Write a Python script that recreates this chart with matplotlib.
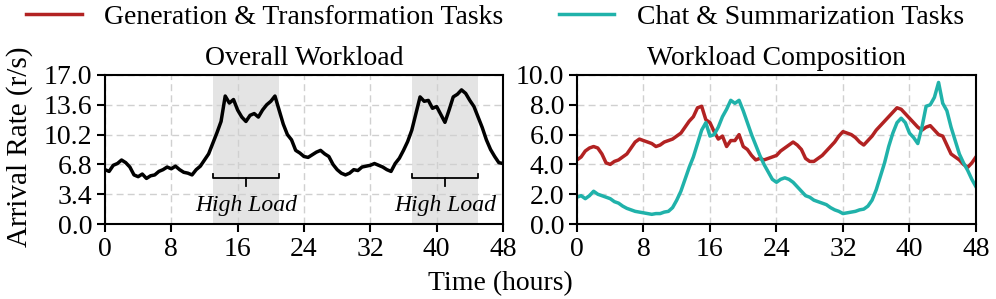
import numpy as np
import matplotlib
matplotlib.use('Agg')
import matplotlib.pyplot as plt

plt.rcParams['font.family'] = ['Liberation Serif', 'DejaVu Serif']

# time axis (hours), half-hour readings
hours = np.arange(0, 48.5, 0.5)

overall = [6.2, 6.0, 6.7, 6.9, 7.3, 7.0, 6.5, 5.6, 5.4, 5.7, 5.2, 5.5, 5.6, 6.0, 6.2, 6.5,
           6.3, 6.6, 6.2, 5.9, 5.8, 5.6, 6.2, 6.6, 7.3, 8.0, 9.2, 10.4, 11.7, 14.6, 13.8, 14.2,
           13.0, 12.2, 11.7, 12.4, 12.6, 12.2, 13.0, 13.6, 14.0, 14.6, 13.0, 11.4, 10.2, 9.6, 8.4, 8.1,
           7.7, 7.6, 7.9, 8.2, 8.4, 8.0, 7.7, 6.8, 6.2, 5.8, 5.6, 5.8, 6.2, 6.1, 6.5, 6.6,
           6.7, 6.9, 6.7, 6.5, 6.2, 6.0, 6.9, 7.5, 8.4, 9.4, 10.7, 12.6, 14.5, 14.0, 14.1, 13.2,
           13.4, 12.5, 11.6, 13.0, 14.5, 14.8, 15.3, 14.9, 14.1, 13.4, 12.2, 11.0, 9.6, 8.5, 7.7, 7.0,
           6.9]

gen_tasks = [4.3, 4.5, 4.9, 5.1, 5.2, 5.1, 4.7, 4.1, 4.0, 4.2, 4.3, 4.5, 4.7, 5.1, 5.5, 5.7,
             5.6, 5.5, 5.4, 5.2, 5.3, 5.5, 5.6, 5.7, 5.9, 6.1, 6.5, 6.9, 7.2, 7.8, 7.9, 7.0,
             6.8, 6.2, 5.7, 5.9, 5.2, 5.6, 5.6, 6.0, 5.2, 5.0, 4.6, 4.3, 4.4, 4.3, 4.4, 4.5,
             4.6, 4.9, 5.1, 5.3, 5.5, 5.3, 5.0, 4.4, 4.2, 4.2, 4.4, 4.6, 4.9, 5.2, 5.5, 5.9,
             6.2, 6.1, 6.0, 5.8, 5.5, 5.3, 5.6, 5.9, 6.3, 6.6, 6.9, 7.2, 7.5, 7.8, 7.7, 7.4,
             7.1, 6.8, 6.5, 6.3, 6.5, 6.6, 6.3, 6.0, 5.9, 5.3, 4.7, 4.5, 4.3, 4.0, 3.8, 4.1,
             4.5]

chat_tasks = [1.8, 1.9, 1.7, 1.9, 2.2, 2.0, 1.9, 1.8, 1.7, 1.5, 1.4, 1.2, 1.05, 0.95, 0.85, 0.8,
              0.75, 0.7, 0.65, 0.7, 0.7, 0.8, 0.85, 1.1, 1.6, 2.2, 3.0, 3.8, 4.5, 5.4, 6.3, 6.8,
              5.9, 6.0, 6.5, 7.2, 7.7, 8.3, 8.1, 8.3, 7.6, 6.8, 6.0, 5.3, 4.6, 4.0, 3.5, 3.0,
              2.8, 3.0, 3.1, 3.0, 2.8, 2.5, 2.2, 1.9, 1.8, 1.6, 1.5, 1.4, 1.3, 1.1, 0.95, 0.85,
              0.7, 0.75, 0.8, 0.85, 0.95, 1.0, 1.2, 1.6, 2.3, 3.2, 4.1, 5.2, 6.1, 6.8, 7.1, 6.8,
              6.1, 5.8, 5.4, 6.5, 7.9, 8.0, 8.5, 9.5, 8.1, 7.6, 6.5, 5.6, 4.7, 4.1, 3.6, 3.0,
              2.5]

high_load = [(13, 21), (37, 45)]

red = '#B22222'
teal = '#20B2AA'

fig = plt.figure(figsize=(9.96, 2.99), dpi=100)
ax1 = fig.add_axes([0.1054, 0.2508, 0.3996, 0.4984])
ax2 = fig.add_axes([0.5793, 0.2508, 0.4006, 0.4984])

for ax in (ax1, ax2):
    ax.grid(True, linestyle=(0, (5, 3)), color='#d0d0d0', linewidth=1.0)
    ax.set_axisbelow(True)
    ax.set_xlim(0, 48)
    ax.set_xticks(range(0, 49, 8))
    ax.tick_params(labelsize=20, width=1.5, length=6, pad=3, direction='out')
    for s in ax.spines.values():
        s.set_linewidth(1.5)

# left: overall
for a, b in high_load:
    ax1.axvspan(a, b, color='#e4e4e4', zorder=0.5, lw=0)
    mid = (a + b) / 2
    ax1.plot([a, a, b, b], [5.65, 5.25, 5.25, 5.65], color='black', lw=1.3)
    ax1.plot([mid, mid], [5.25, 4.3], color='black', lw=1.3)
    ax1.text(mid, 2.1, 'High Load', ha='center', va='center', fontsize=17, style='italic')
ax1.plot(hours, overall, color='black', lw=2.5)
ax1.set_ylim(0, 17)
ax1.set_yticks(np.arange(0, 17.01, 3.4))
ax1.set_yticklabels(['%.1f' % v for v in np.arange(0, 17.01, 3.4)])
ax1.set_title('Overall Workload', fontsize=20, pad=7)

# right: composition
l1, = ax2.plot(hours, gen_tasks, color=red, lw=2.5, label='Generation & Transformation Tasks')
l2, = ax2.plot(hours, chat_tasks, color=teal, lw=2.5, label='Chat & Summarization Tasks')
ax2.set_ylim(0, 10)
ax2.set_yticks(np.arange(0, 10.01, 2))
ax2.set_yticklabels(['%.1f' % v for v in np.arange(0, 10.01, 2)])
ax2.set_title('Workload Composition', fontsize=20, pad=7)

fig.text(20 / 996, 0.5 + 0.01, 'Arrival Rate (r/s)', rotation=90, ha='center', va='center', fontsize=21)
fig.text(0.502, 0.052, 'Time (hours)', ha='center', va='center', fontsize=20)
fig.legend(handles=[l1, l2], loc='center', bbox_to_anchor=(0.497, 0.943), ncol=2,
           frameon=False, fontsize=20, handlelength=2.0, columnspacing=2.0, handletextpad=0.8,
           borderpad=0, borderaxespad=0)

plt.savefig('out.png', dpi=100)
